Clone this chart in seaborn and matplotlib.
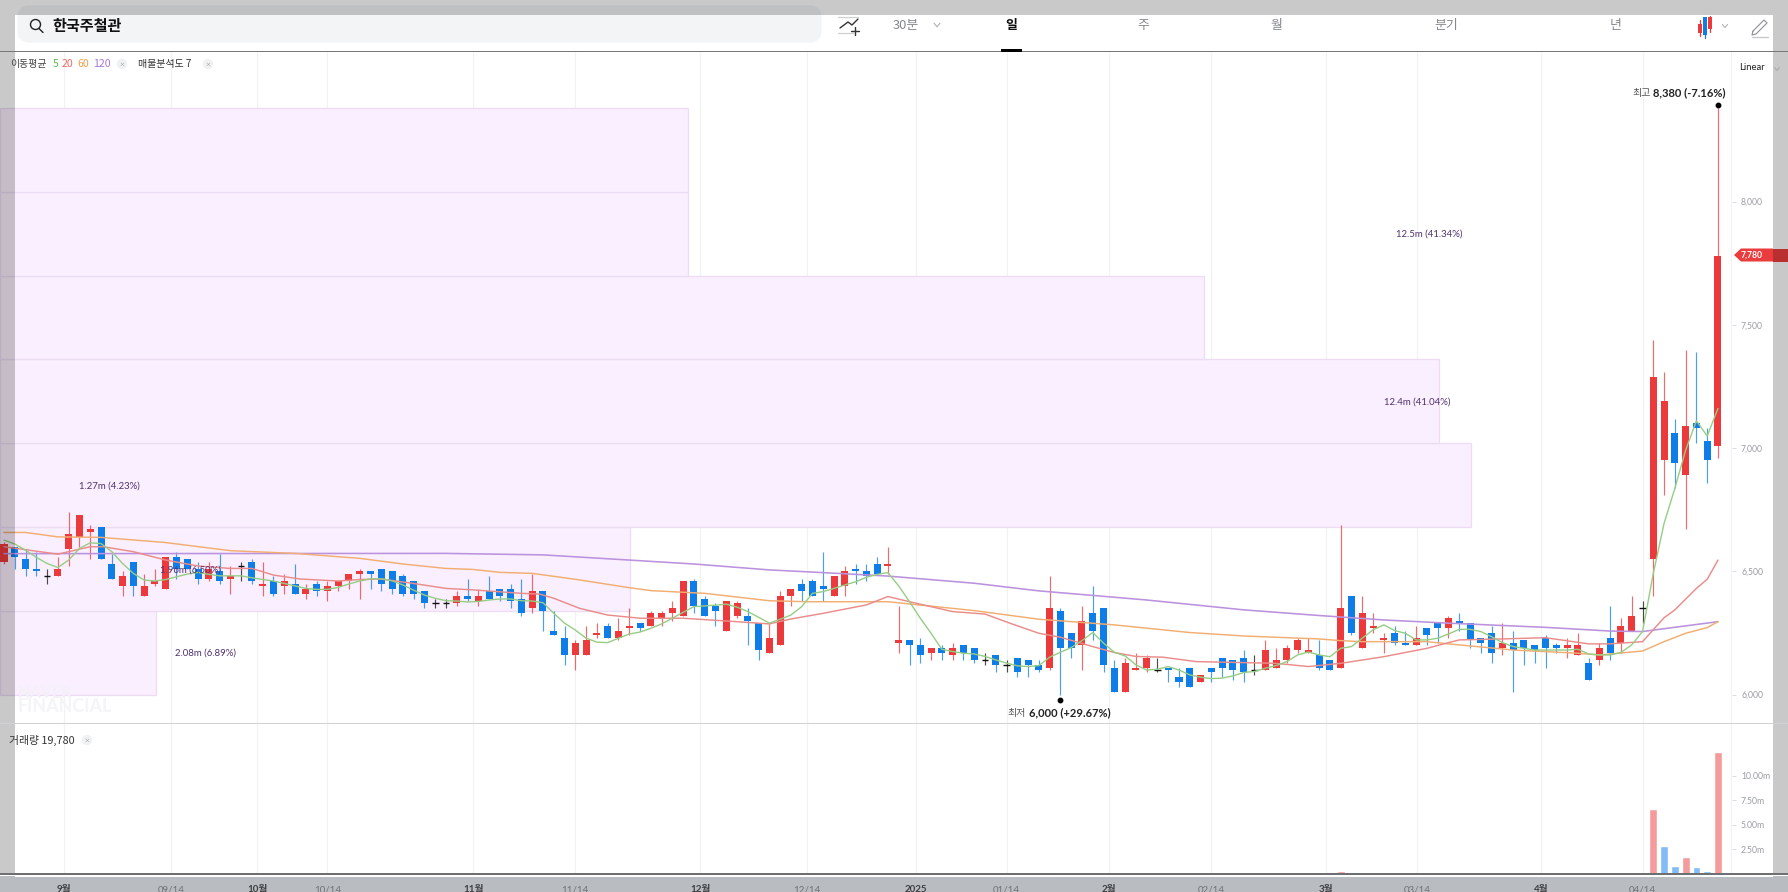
import numpy as np
import pandas as pd
import matplotlib
matplotlib.use("Agg")
import matplotlib.pyplot as plt
from matplotlib.patches import Rectangle, FancyBboxPatch, Circle, Polygon
from matplotlib.transforms import ScaledTranslation
import seaborn as sns

# ---------- data ----------
open_ = [6540,6600,6550,6510,6480,6480,6590,6640,6660,6680,6530,6440,6540,6400,6450,6430,6560,6550,6510,6470,
         6500,6470,6520,6540,6440,6460,6440,6450,6410,6450,6420,6440,6460,6490,6500,6510,6500,6480,6460,6420,6370,6370,
         6370,6400,6380,6420,6430,6430,6390,6350,6420,6260,
         6230,6160,6160,6240,6280,6230,6270,6290,6280,6310,
         6330,6320,6460,6390,6360,6260,6320,6320,6290,6170,
         6200,6400,6450,6460,6440,6400,6440,6510,6500,6530,
         6520,6210,6220,6200,6170,6190,6160,6200,6190,6140,
         6160,6120,6150,6140,6120,6110,6340,6250,6200,6330,
         6350,6110,6010,6100,6110,6100,6110,6070,6110,6050,
         6110,6150,6140,6150,6100,6100,6110,6140,6180,6170,
         6160,6140,6110,6400,6190,6270,6220,6250,6210,6200,
         6270,6290,6270,6300,6290,6230,6250,6190,6210,6220,
         6200,6230,6200,6190,6160,6130,6140,6230,6210,6260,
         6350,6550,6950,7060,6890,7100,7030,7010]
high = [6620,6600,6590,6580,6510,6560,6740,6730,6690,6680,6570,6500,6540,6490,6510,6560,6580,6550,6540,6540,
        6570,6520,6540,6550,6540,6480,6490,6530,6450,6460,6460,6460,6490,6510,6500,6510,6500,6490,6460,6420,6390,6390,
        6420,6470,6430,6480,6430,6450,6470,6490,6420,6340,
        6280,6220,6280,6290,6290,6310,6350,6290,6340,6340,
        6380,6460,6470,6400,6370,6380,6380,6350,6290,6290,
        6420,6430,6470,6470,6580,6480,6520,6530,6530,6560,
        6600,6360,6220,6230,6190,6200,6210,6200,6190,6170,
        6160,6140,6150,6140,6140,6480,6350,6250,6360,6440,
        6350,6140,6150,6170,6160,6150,6110,6110,6110,6080,
        6110,6150,6140,6180,6160,6220,6190,6200,6230,6230,
        6220,6140,6690,6400,6400,6330,6250,6280,6260,6280,
        6270,6290,6320,6330,6290,6230,6280,6290,6260,6220,
        6200,6240,6210,6230,6250,6150,6210,6360,6310,6400,
        6380,7440,7310,7120,7400,7390,7080,8380]
low = [6530,6510,6480,6480,6450,6480,6520,6600,6550,6550,6470,6400,6400,6400,6440,6430,6470,6510,6450,6460,
       6450,6410,6460,6450,6400,6400,6410,6410,6390,6400,6380,6420,6430,6390,6430,6420,6410,6400,6390,6350,6350,6350,
       6360,6380,6360,6390,6380,6350,6320,6330,6260,6240,
       6120,6100,6160,6230,6230,6220,6240,6260,6280,6280,
       6300,6320,6330,6320,6280,6260,6310,6200,6140,6170,
       6200,6360,6380,6400,6380,6400,6400,6450,6460,6490,
       6490,6170,6120,6130,6140,6140,6140,6140,6130,6120,
       6090,6090,6070,6070,6090,6100,6000,6150,6100,6220,
       6090,6010,6010,6100,6090,6090,6050,6030,6030,6050,
       6050,6070,6060,6050,6080,6100,6110,6130,6170,6170,
       6100,6100,6110,6240,6190,6250,6170,6200,6200,6200,
       6200,6210,6230,6260,6190,6170,6130,6160,6010,6120,
       6130,6110,6170,6150,6160,6060,6120,6140,6170,6260,
       6290,6400,6810,6840,6670,7020,6860,6960]
close = [6610,6560,6510,6500,6480,6510,6650,6730,6670,6550,6470,6480,6440,6440,6460,6560,6510,6510,6470,6510,
         6460,6480,6520,6460,6450,6410,6460,6410,6430,6420,6440,6460,6490,6500,6490,6450,6430,6410,6410,6370,6370,6370,
         6400,6390,6400,6390,6400,6380,6330,6420,6340,6240,
         6160,6210,6220,6250,6230,6260,6280,6270,6330,6330,
         6350,6460,6360,6320,6340,6380,6370,6300,6180,6230,
         6400,6430,6420,6400,6430,6480,6500,6500,6480,6490,
         6530,6220,6200,6160,6190,6170,6190,6170,6140,6140,
         6120,6120,6090,6120,6100,6350,6190,6190,6300,6260,
         6120,6010,6130,6110,6150,6100,6100,6050,6030,6080,
         6090,6110,6100,6090,6100,6180,6140,6190,6220,6180,
         6110,6100,6350,6250,6330,6280,6230,6210,6200,6230,
         6240,6270,6310,6290,6220,6210,6170,6210,6180,6190,
         6180,6190,6190,6200,6200,6060,6190,6170,6280,6320,
         6350,7290,7190,6940,7090,7080,6950,7780]

ma5 = [6627,6611,6586,6557,6532,6516,6546,6593,6616,6613,
       6580,6532,6492,6465,6461,6467,6478,6489,6496,6488,
       6482,6482,6482,6474,6467,6461,6451,6441,6431,6427,
       6427,6435,6449,6461,6470,6470,6462,6445,6424,6404,
       6391,6381,6380,6376,6378,6384,6388,6388,6381,6380,
       6373,6330,6290,6262,6229,6213,6211,6229,6246,6254,
       6269,6287,6310,6334,6357,6360,6363,6367,6355,6337,
       6314,6290,6306,6323,6357,6411,6418,6431,6445,6458,
       6476,6488,6495,6441,6377,6310,6249,6184,6175,6168,
       6165,6155,6141,6128,6117,6114,6118,6152,6172,6191,
       6219,6252,6209,6172,6157,6121,6100,6103,6114,6100,
       6080,6071,6065,6067,6076,6090,6094,6107,6118,6134,
       6161,6173,6161,6154,6188,6195,6229,6263,6283,6260,
       6249,6222,6222,6229,6246,6265,6265,6256,6235,6211,
       6195,6188,6181,6181,6181,6181,6184,6165,6161,6161,
       6171,6202,6256,6492,6695,6837,6992,7111,7049,7161]

ma20_i = [0,5,8,9.2,12,15,18,21,23,25,27.5,31,33,35,38,41,43.5,48,49.7,51,53.4,56,59,63,68,71,73,76,80,82,84,88,91,
          93.5,96,98,101,103,105,107.5,110.6,115,118,121,124,128,132,134,135,139,143,147,149,152,154,155,157,158,159]
ma20_v = [6600,6570,6600,6600,6580,6546,6522,6512,6512,6485,6469,6461,6467,6469,6451,6431,6425,6411,6408,6391,6350,6323,6310,6310,6296,6287,6307,6330,6364,6398,6377,6337,6327,
          6287,6249,6233,6195,6171,6155,6152,6134,6130,6127,6114,6127,6154,6188,6211,6222,6226,6231,6206,6206,6215,6312,6344,6431,6468,6546]
ma60_i = [0,2,5,9,15,21,27,33,37,41,43.5,46,49,53,58,60,65,71,74.5,79,82,90,96,103,110,115,122,124,126,132,134,140,146,148,152,154,156,158,159]
ma60_v = [6658,6658,6640,6638,6617,6584,6573,6553,6530,6512,6508,6496,6492,6468,6434,6422,6411,6381,6377,6377,6377,6341,6306,6283,6252,6238,6226,6219,6215,6215,6206,6181,6168,6161,6177,6215,6249,6272,6296]
ma120_i = [0,41,50,58,64,71,76,82,90,96,106,115,122,128,134,143,149,152,156,159]
ma120_v = [6572,6573,6567,6546,6530,6506,6495,6481,6452,6421,6384,6344,6321,6303,6290,6273,6258,6256,6279,6296]

vol_i = [6,76,83,97,98,100,101,102,124,125,127,147,149,153,154,155,156,157,158,159]
vol_m = [0.08,0.07,0.07,0.2,0.1,0.08,0.08,0.08,0.34,0.1,0.1,0.08,0.08,6.65,2.9,0.82,1.77,0.68,0.3,12.4]
vol_dir = ["up","up","up","up","down","up","down","up","up","down","down","up","up","up","down","down","up","down","down","up"]

profile_low = [6000,6340,6680,7020,7360,7700,8040]
profile_right = [14.07,58.1,136.1,133.1,111.3,63.45,63.45]
profile_labels = ["2.08m (6.89%)","1.96m (6.50%)","1.27m (4.23%)","12.4m (41.04%)","12.5m (41.34%)"]
profile_lab_i = [18.7,17.3,9.8,131.1,132.2]
profile_lab_v = [6167,6505,6846,7188,7868]

price_ticks = [6000,6500,7000,7500,8000]
vol_ticks = [2.5,5,7.5,10]
time_ticks = [5.55,15.5,23.5,30.0,43.55,53.0,64.6,74.5,84.6,93,102.5,112,122.6,131.1,142.6,152]
time_labels = ["9월","09/14","10월","10/14","11월","11/14","12월","12/14","2025","01/14","2월","02/14","3월","03/14","4월","04/14"]
tabs = ["30분","일","주","월","분기","년"]

# ---------- style ----------
W, H = 1788, 892
sns.set_theme(style="white")
plt.rcParams["font.family"] = ["Lato", "Noto Sans CJK KR", "DejaVu Sans"]
KR = ["Noto Sans CJK KR", "DejaVu Sans"]
RED, BLUE = "#ec3a3c", "#0f7de8"
GRID, TICK = "#f1f2f4", "#9a9da3"

def axes_px(x0, y0, x1, y1, **kw):
    return fig.add_axes([x0 / W, 1 - y1 / H, (x1 - x0) / W, (y1 - y0) / H], **kw)

fig = plt.figure(figsize=(W / 100, H / 100), dpi=100, facecolor="#b9bcc0")
fig.add_artist(Rectangle((0, 16 / H), 1, 1, transform=fig.transFigure, color="white", zorder=-1, lw=0))

xlim = (-0.371, 160.3)
ax = axes_px(0, 52, 1732, 723, facecolor="none", zorder=1)
vx = axes_px(0, 723, 1732, 874, facecolor="none", zorder=1)
for a in (ax, vx):
    a.set_xlim(*xlim)
    a.set_xticks(time_ticks)
    for s in a.spines.values():
        s.set_visible(False)
    a.vlines(time_ticks, 0, 1, transform=a.get_xaxis_transform(), color=GRID, lw=0.9, zorder=0)
    a.axvline(xlim[1], color=GRID, lw=1.5, zorder=0)
    a.yaxis.tick_right()
ax.set_ylim(5885, 8607)
vx.set_ylim(0, 15.4)

# volume-profile boxes
ax.barh(profile_low, np.array(profile_right) - xlim[0], left=xlim[0], height=340, align="edge",
        facecolor="#faeffe", edgecolor="#eddcf6", linewidth=0.9, zorder=0.5)

# candles
frame = pd.DataFrame({"o": open_, "h": high, "l": low, "c": close})
frame["i"] = np.arange(len(frame))
frame["col"] = np.where(frame.c > frame.o, RED, np.where(frame.c < frame.o, BLUE, "#111111"))
ax.vlines(frame.i, frame.l, frame.h, colors=frame.col, linewidth=0.85, alpha=0.75, zorder=2)
solid = frame[frame.c != frame.o]
ax.bar(solid.i, (solid.c - solid.o).abs(), bottom=solid[["o", "c"]].min(axis=1), width=0.65,
       color=solid.col, edgecolor="none", zorder=2.2)
doji = frame[frame.c == frame.o]
ax.hlines(doji.c, doji.i - 0.31, doji.i + 0.31, color="#111111", lw=1.0, zorder=2.2)

# moving averages
for xs, ys, col, lw in [(ma120_i, ma120_v, "#bb92de", 1.15), (ma60_i, ma60_v, "#f2ad70", 1.05),
                        (ma20_i, ma20_v, "#ea8c8a", 1.05), (np.arange(len(ma5)), ma5, "#96cd84", 1.0)]:
    sns.lineplot(x=list(xs), y=list(ys), color=col, lw=lw, ax=ax, errorbar=None, sort=False, zorder=3, legend=False)

# volume bars
vdf = pd.DataFrame({"i": vol_i, "m": vol_m, "d": vol_dir})
sns.barplot(data=vdf, x="i", y="m", hue="d", palette={"up": "#f59b9c", "down": "#82bcf8"}, native_scale=True,
            dodge=False, width=0.72, saturation=1, legend=False, ax=vx, zorder=2)
vx.set_xlim(*xlim)
vx.set_ylim(0, 15.4)
vx.set_xlabel("")
vx.set_ylabel("")
ax.set_xlabel("")
ax.set_ylabel("")

# axis ticks
ax.set_yticks(price_ticks)
ax.set_yticklabels([f"{v:,}" for v in price_ticks])
vx.set_yticks(vol_ticks)
vx.set_yticklabels([f"{v:.2f}m" for v in vol_ticks])
for a in (ax, vx):
    a.tick_params(axis="y", which="major", right=True, left=False, length=3, width=0.7, color="#dcdde0",
                  labelcolor=TICK, labelsize=6.2, pad=3.5)
ax.tick_params(axis="x", bottom=False, labelbottom=False)
vx.set_xticks(time_ticks)
vx.set_xticklabels(time_labels)
vx.tick_params(axis="x", bottom=False, labelsize=7, pad=2.2)
for lab in vx.get_xticklabels():
    if "/" in lab.get_text():
        lab.set_color("#6f7277")
    else:
        lab.set_color("#3c3e42")
        lab.set_fontweight("bold")

# profile labels
for t, xv, yv in zip(profile_labels, profile_lab_i, profile_lab_v):
    ax.text(xv, yv, t, ha="center", va="center", fontsize=6.9, color="#4f3170", zorder=4)

# high / low markers
dot_up = ax.transData + ScaledTranslation(0, 2.2 / 72, fig.dpi_scale_trans)
dot_dn = ax.transData + ScaledTranslation(0, -3.6 / 72, fig.dpi_scale_trans)
imax, imin = int(np.argmax(high)), int(np.argmin(low))
ax.plot([imax], [high[imax]], "o", ms=3.2, color="black", transform=dot_up, zorder=5)
ax.plot([imin], [low[imin]], "o", ms=3.2, color="black", transform=dot_dn, zorder=5)

# ---------- chrome, in pixel coordinates ----------
ov = axes_px(0, 0, W, H, facecolor="none", zorder=5)
ov.set_xlim(0, W)
ov.set_ylim(H, 0)
ov.axis("off")

def T(x, y, s, size=7.2, color="#333333", ha="left", weight="normal", family=None, z=8):
    return ov.text(x, y, s, fontsize=size, color=color, ha=ha, va="center", fontweight=weight,
                   family=family if family else plt.rcParams["font.family"], zorder=z)

def L(xs, ys, color="#555555", lw=1.0, z=8):
    ov.plot(xs, ys, color=color, lw=lw, solid_capstyle="round", zorder=z)

def chev(x, y, s=3):
    L([x - s, x, x + s], [y - s * 0.6, y + s * 0.6, y - s * 0.6], "#a5a8ad", 0.7)

def closer(x, y):
    ov.add_patch(Circle((x, y), 5.2, color="#f0f1f2", lw=0, zorder=7))
    T(x, y, "×", 6, "#a8abb0", "center")

# watermark
T(18, 693, "NAVER", 11.5, "#f4f0f8", weight="black", z=2)
T(18, 707, "FINANCIAL", 12.8, "#f5f4f8", weight="black", z=2)

# top bar, search box, dim bands
ov.add_patch(Rectangle((0, 15), W, 37, color="white", lw=0, zorder=3))
ov.add_patch(FancyBboxPatch((23, 11), 793, 26, boxstyle="round,pad=0,rounding_size=6", mutation_scale=1,
                            linewidth=8, edgecolor="#f2f4f6", facecolor="#f2f4f6", zorder=3.5))
for r in [(0, 0, W, 15), (0, 15, 15, 860), (1773, 15, 15, 860)]:
    ov.add_patch(Rectangle((r[0], r[1]), r[2], r[3], color="black", alpha=0.21, lw=0, zorder=4))
ov.add_patch(Rectangle((0, 50.7), W, 1.6, color="#77787a", lw=0, zorder=5))
ov.add_patch(Rectangle((0, 723), W, 1.1, color="#cfd0da", lw=0, zorder=5))
ov.add_patch(Rectangle((0, 873.2), W, 1.8, color="#6e6f72", lw=0, zorder=5))
ov.add_patch(Rectangle((15, 875), 1758, 1.6, color="white", lw=0, zorder=5))

# search
ov.add_patch(Circle((35.5, 24.5), 5, fill=False, ec="#222222", lw=1.0, zorder=8))
L([39, 43], [28.5, 32.5], "#222222", 1.0)
T(52, 26, "한국주철관", 10.9, "#111111", weight="bold", family=KR)

# chart-add icon
L([840, 848, 852, 858], [28, 22, 25, 19], "#333333", 1.0)
L([838, 858], [17, 17], "#cfd0d2", 0.9)
L([838, 853], [33, 33], "#cfd0d2", 0.9)
L([855, 855], [27, 35], "#333333", 1.0)
L([851, 859], [31, 31], "#333333", 1.0)

# tabs
tab_x = [906, 1011, 1143, 1276, 1446, 1616]
for s, x in zip(tabs, tab_x):
    sel = s == "일"
    T(x, 25, s, 9.3, "#111111" if sel else "#84878c", "center", "bold" if sel else "normal", KR)
chev(937, 25)
ov.add_patch(Rectangle((1001, 49), 21, 3, color="black", lw=0, zorder=6))

# candle icon, pencil
L([1700, 1700], [20, 36], RED, 0.9)
ov.add_patch(Rectangle((1698, 24), 4, 9, color=RED, lw=0, zorder=8))
L([1705, 1705], [17, 38], BLUE, 0.9)
ov.add_patch(Rectangle((1703, 17), 4.4, 18, color=BLUE, lw=0, zorder=8))
L([1710, 1710], [16, 32], RED, 0.9)
ov.add_patch(Rectangle((1708, 17), 4, 12, color=RED, lw=0, zorder=8))
chev(1725, 26, 2.6)
L([1753, 1764, 1767, 1756, 1752, 1753], [31, 20, 23, 34, 35, 31], "#8e9196", 0.8)
L([1752, 1768], [37, 37], "#c4c6c9", 0.9)

# indicator legends
T(10, 64, "이동평균", 7.1, "#444444", family=KR)
T(53, 64, "5", 7.6, "#63b84e", family=KR)
T(62, 64, "20", 7.6, "#ec6b63", family=KR)
T(77.5, 64, "60", 7.6, "#f0a04c", family=KR)
T(93, 64, "120", 7.6, "#a877d6", family=KR)
closer(122, 64)
T(138, 64, "매물분석도 7", 7.2, "#333333", family=KR)
closer(208, 64)
T(9, 740, "거래량 19,780", 7.8, "#333333", family=KR)
closer(87, 740)

# scale switch
T(1739, 68, "Linear", 6.8, "#222222")
chev(1777, 69, 2.4)

# extreme labels
T(1632, 93, "최고", 7.2, "#555555", family=KR)
T(1653, 93, "8,380 (-7.16%)", 8.0, "#222222", weight="bold")
T(1007, 713, "최저", 7.2, "#555555", family=KR)
T(1029, 713, "6,000 (+29.67%)", 8.0, "#222222", weight="bold")

# last price tag
ov.add_patch(Polygon([(1734, 255), (1741, 248.5), (1773, 248.5), (1773, 261.5), (1741, 261.5)],
                     closed=True, color="#ea3b3d", lw=0, zorder=6))
ov.add_patch(Rectangle((1773, 248.5), 15, 13, color="#b92f30", lw=0, zorder=6))
T(1741, 255, "7,780", 6.2, "white", weight="bold")

fig.savefig("out.png", dpi=100, facecolor=fig.get_facecolor())
